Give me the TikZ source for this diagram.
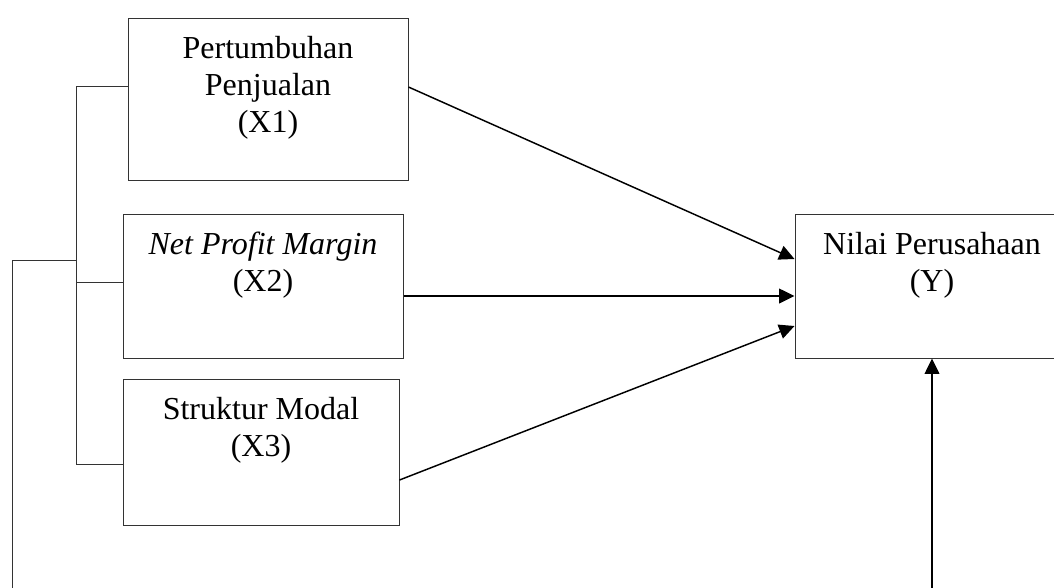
\documentclass[tikz,border=0pt]{standalone}
\usepackage{fontspec}
\setmainfont{Liberation Serif}
\usetikzlibrary{arrows.meta,calc}

\tikzset{every picture/.style={line width=0.75pt}}
\tikzset{
  varbox/.style={draw=black!80, rectangle, inner sep=0pt},
  vartext/.style={anchor=north, inner sep=0pt, align=center, font=\fontsize{24}{27.75}\selectfont},
  link/.style={-{Triangle[length=11.5pt,width=11pt]}, line width=1.1pt},
  branch/.style={draw=black!80, line width=0.75pt}
}

\begin{document}
\begin{tikzpicture}[x=0.75pt,y=0.75pt,yscale=-1,xscale=1]
\clip (0,0) rectangle (1054,587); %diagram is 1054 wide, 587 high

% Text Node
\node[varbox, minimum width=210pt, minimum height=121.5pt] (x1) at (268,99) {};
\node[vartext] (x1text) at ($(x1.north)+(0,18)$) {Pertumbuhan\\Penjualan\\(X1)};
% Text Node
\node[varbox, minimum width=210pt, minimum height=108pt] (x2) at (263,286) {};
\node[vartext] (x2text) at ($(x2.north)+(0,18)$) {\textit{Net Profit Margin}\\(X2)};
% Text Node
\node[varbox, minimum width=207pt, minimum height=109.5pt] (x3) at (261,452) {};
\node[vartext] (x3text) at ($(x3.north)+(0,18)$) {Struktur Modal\\(X3)};
% Text Node
\node[varbox, minimum width=205.5pt, minimum height=108pt] (y) at (932,286) {};
\node[vartext] (ytext) at ($(y.north)+(0,18)$) {Nilai Perusahaan\\(Y)};

% Bracket
\coordinate (brtop) at (76,86);
\coordinate (brx2) at (76,282);
\coordinate (brmid) at (76,260);
\coordinate (brbot) at (76,464);
\coordinate (fback) at (12,600);
\coordinate (ybase) at (932,600);
\draw[branch] ($(x1.west)+(0,-13)$) -| (brbot) -- ($(x3.west)+(0,12)$);
\draw[branch] (brx2) -- (brx2 -| x2.west);
\draw[branch] (brmid) -- (brmid -| fback) -- (fback);

% Connection
\draw[link] ($(x1.east)+(0,-12)$) -- ($(y.west)+(0,-27)$);
% Connection
\draw[link] ($(x2.east)+(0,10)$) -- ($(y.west)+(0,10)$);
% Connection
\draw[link] ($(x3.east)+(0,28)$) -- ($(y.west)+(0,40)$);
% Connection
\draw[link] (ybase) -- (y.south);

\end{tikzpicture}
\end{document}
